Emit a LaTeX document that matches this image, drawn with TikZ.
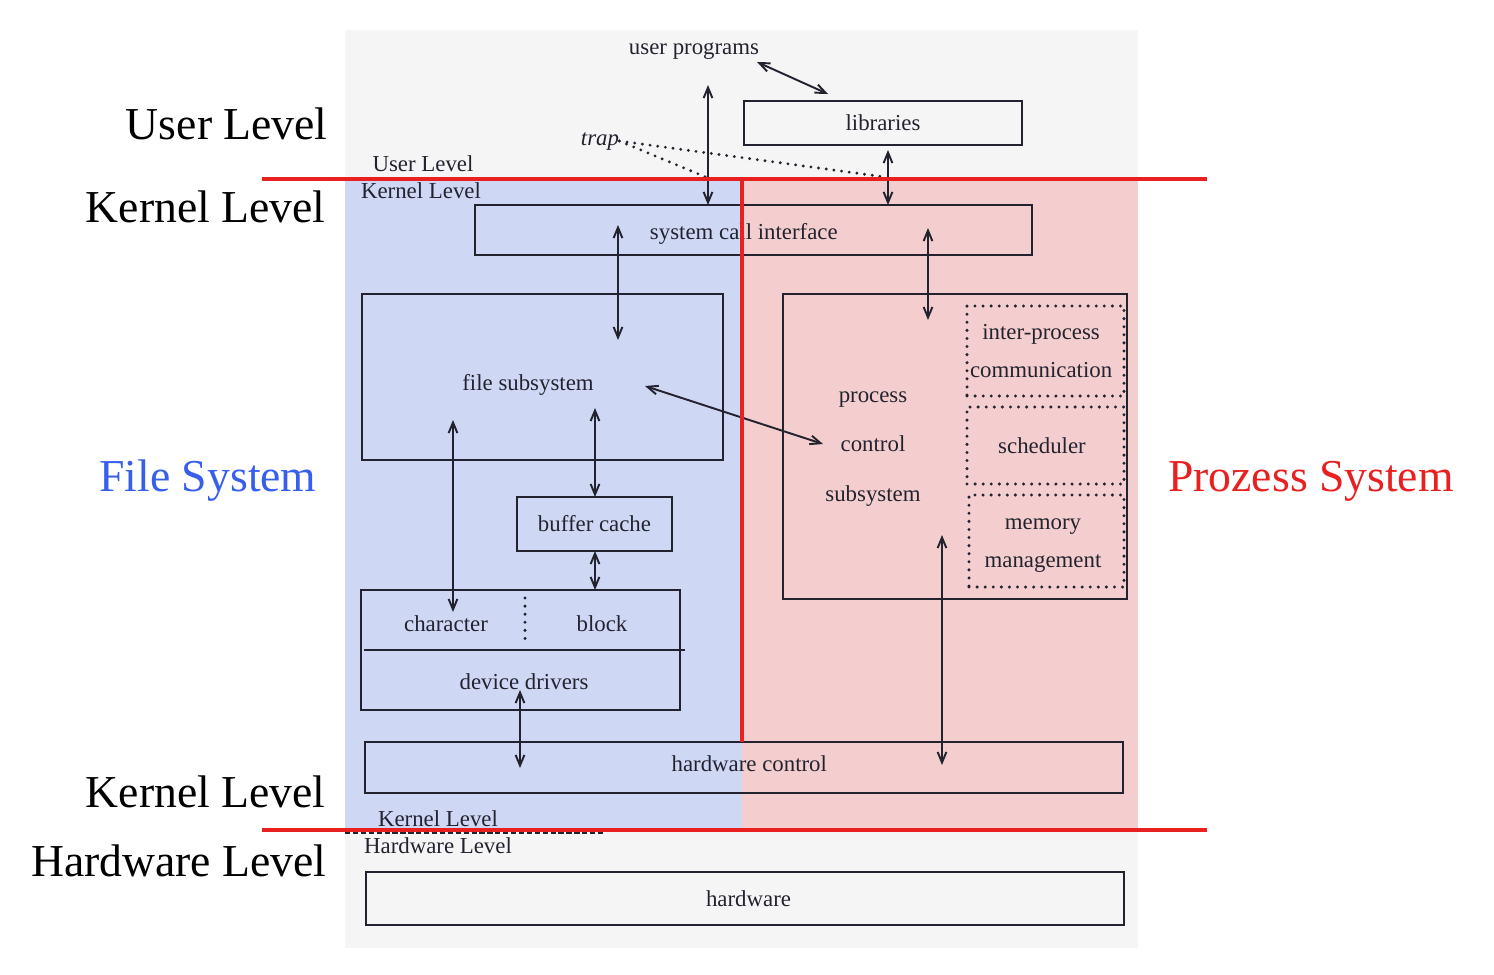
\documentclass[tikz,border=0pt]{standalone}
\usepackage{fontspec}
\setmainfont{Liberation Serif}
\usetikzlibrary{arrows.meta,fit}

\definecolor{pageGray}{RGB}{245,245,245}
\definecolor{fileBlue}{RGB}{206,215,243}
\definecolor{procRed}{RGB}{244,206,206}
\definecolor{levelRed}{RGB}{232,32,32}
\definecolor{fileText}{RGB}{55,95,235}
\definecolor{inkColor}{RGB}{35,35,48}

\begin{document}
\begin{tikzpicture}
[x=0.02cm,y=-0.02cm,
  boxDecorate/.style={draw=inkColor,line width=1.1pt,inner sep=0pt},%
  subDecorate/.style={draw=inkColor,line width=1.9pt,dash pattern=on 0pt off 4.6pt,line cap=round,inner sep=0pt},%
  textDecorate/.style={text=inkColor,inner sep=0pt,align=center,font=\fontsize{13}{15.6}\selectfont},%
  arrowDecorate/.style={<->,>={Straight Barb[length=6pt,width=5pt]},line width=1.1pt,draw=inkColor},%
  trapDecorate/.style={draw=inkColor,line width=1.8pt,dash pattern=on 0pt off 4.4pt,line cap=round},%
  levelDecorate/.style={inner sep=0pt,anchor=east,font=\fontsize{26}{31}\selectfont},%
  redLine/.style={draw=levelRed,line width=2.2pt},
  every label/.style={textDecorate}]
\useasboundingbox (0,0) rectangle (1494,974);
%% scanned page and tinted halves
\fill[pageGray] (345,30) rectangle (1138,948);
\fill[fileBlue] (345,180) rectangle (742,830);
\fill[procRed] (742,180) rectangle (1138,830);
\draw[inkColor,line width=0.8pt,dash pattern=on 3pt off 1.5pt] (345,833) -- (605,833);
%% boxes
\node (libs) [boxDecorate,fit={(744,101) (1022,145)},label=center:libraries] {};
\node (syscall) [boxDecorate,fit={(475,205) (1032,255)},label={[xshift=-5.5pt,yshift=-2pt]center:system call interface}] {};
\node (filesub) [boxDecorate,fit={(362,294) (723,460)}] {};
\node (proc) [boxDecorate,fit={(783,294) (1127,599)}] {};
\node (ipc) [subDecorate,fit={(967,306) (1124,396)},label={[xshift=-2.5pt]center:inter-process\\[6pt]communication}] {};
\node (sched) [subDecorate,fit={(967,407) (1124,484)},label={[xshift=-2pt]center:scheduler}] {};
\node (mem) [subDecorate,fit={(969,495) (1124,587)},label={[xshift=-2pt,yshift=-2.5pt]center:memory\\[6pt]management}] {};
\node (buffer) [boxDecorate,fit={(517,497) (672,551)},label=center:buffer cache] {};
\node (drivers) [boxDecorate,fit={(361,590) (680,710)}] {};
\node (hwctl) [boxDecorate,fit={(365,742) (1123,793)},label={[xshift=3pt,yshift=2pt]center:hardware control}] {};
\node (hw) [boxDecorate,fit={(366,872) (1124,925)},label={[xshift=2pt]center:hardware}] {};
\draw[inkColor,line width=1.1pt] (364,650) -- (685,650);
\draw[subDecorate] (525,598) -- (525,643);
%% texts
\foreach \nodename/\x/\y/\txt in {
  uprog/694/51/user programs, filetxt/528/385/file subsystem,
  proctxt/873/449/{process\\[12.5pt]control\\[12.5pt]subsystem},
  chartxt/446/624/character, blocktxt/602/624/block, devtxt/524/682/device drivers,
  userS/423/164/User Level, kernS/421/191/Kernel Level,
  kernT/438/819/Kernel Level, hardT/438/846/Hardware Level}
{
  \node (\nodename) at (\x,\y) [textDecorate] {\txt};
}
\node (trap) at (600,141) [textDecorate] {\textit{trap}};
%% level labels
\node (userL) at (328,124) [levelDecorate] {User Level};
\node (kernL) at (326,207) [levelDecorate] {Kernel Level};
\node (kernB) at (326,792) [levelDecorate] {Kernel Level};
\node (hardL) at (327,861) [levelDecorate] {Hardware Level};
\node (fileL) at (208,481) [levelDecorate,anchor=center,text=fileText] {File System};
\node (procL) at (1311,481) [levelDecorate,anchor=center,text=levelRed] {Prozess System};
%% arrows
\foreach \n/\xa/\ya/\xb/\yb in {
  ul/757/62/828/94, us/708/85/708/205, ls/888/150/888/205,
  sf/618/225/618/340, sp/928/228/928/320, fp/645/386/823/444,
  fc/453/420/453/612, fb/595/408/595/497, bd/595/551/595/590,
  dh/520/690/520/768, ph/942/535/942/765}
{
  \coordinate (\n-a) at (\xa,\ya);
  \coordinate (\n-b) at (\xb,\yb);
  \draw[arrowDecorate] (\n-a) -- (\n-b);
}
\coordinate (trapL) at (708,178);
\coordinate (trapR) at (885,177);
\draw[trapDecorate] (trap.east) -- (trapL);
\draw[trapDecorate] (trap.east) -- (trapR);
%% level borders
\draw[redLine] (262,179) -- (1207,179);
\draw[redLine] (262,830) -- (1207,830);
\draw[redLine] (742,180) -- (742,742);
\end{tikzpicture}
\end{document}
